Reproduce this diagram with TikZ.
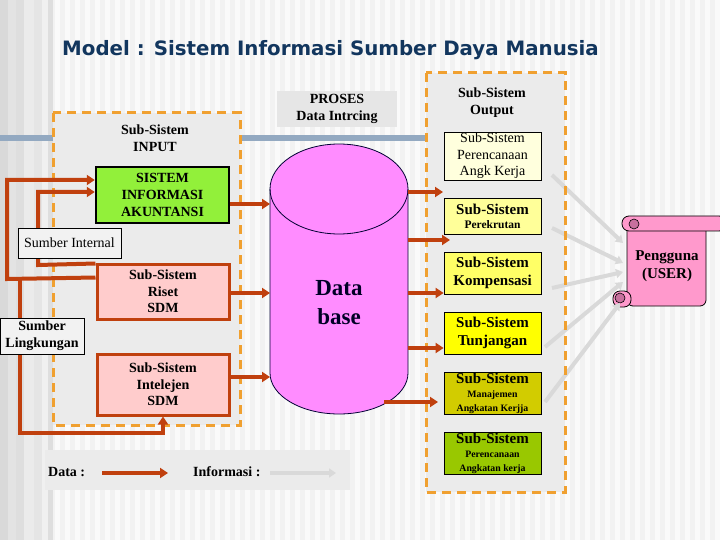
\documentclass[tikz,border=0pt]{standalone}
\usepackage{fontspec}
\setmainfont{Liberation Serif}
\newfontfamily\titlefont{DejaVu Sans}
\usetikzlibrary{arrows.meta}
\definecolor{datared}{HTML}{C0400E}
\definecolor{dashorange}{HTML}{F0A030}
\definecolor{panelgray}{HTML}{EBEBEB}
\definecolor{infogray}{HTML}{D9D9D9}
\definecolor{bluegray}{HTML}{93A9C1}
\definecolor{titleblue}{HTML}{12365E}
\definecolor{siagreen}{HTML}{92F03A}
\definecolor{risetpink}{HTML}{FFCCCC}
\definecolor{dbpink}{HTML}{FF8CFF}
\definecolor{yelA}{HTML}{FFFFDD}
\definecolor{yelB}{HTML}{FFFF99}
\definecolor{yelC}{HTML}{FFFF66}
\definecolor{yelD}{HTML}{FFFF00}
\definecolor{yelE}{HTML}{D2CC00}
\definecolor{yelF}{HTML}{99C800}
\definecolor{userpink}{HTML}{FF99CC}
\definecolor{curlpink}{HTML}{C8709E}
\definecolor{bgbase}{HTML}{F2F2F2}
\definecolor{bgstripe}{HTML}{FAFAFA}
\definecolor{labelgray}{HTML}{E6E6E6}
\newcommand{\fsz}[2]{\fontsize{#1}{#2}\selectfont}
\tikzset{
  dashpanel/.style={draw=dashorange, line width=3pt, dash pattern=on 9pt off 6pt},
  datalink/.style={draw=datared, line width=4pt, line join=miter, -{Triangle[length=8pt,width=10pt]}},
  infolink/.style={draw=infogray, line width=4pt, -{Triangle[length=7pt,width=9pt]}},
  redbox/.style={draw=datared, line width=3pt, fill=risetpink, minimum width=132pt, inner sep=0pt, align=center, font=\bfseries\fsz{14}{16.7}},
  outbox/.style={draw=black, line width=0.8pt, minimum width=97pt, inner sep=0pt, align=center},
  srcbox/.style={draw=black, line width=0.6pt, fill=bgbase, inner sep=0pt, align=center},
  plainlabel/.style={inner sep=0pt, align=center, font=\bfseries\fsz{14}{16.7}}
}
\begin{document}
\begin{tikzpicture}[x=1pt,y=-1pt]
\useasboundingbox (0,0) rectangle (720,540);
% background
\fill[bgbase] (0,0) rectangle (720,540);
\foreach \xx in {55,65,...,715} { \fill[bgstripe] (\xx,0) rectangle (\xx+5,540); }
\fill[black!15] (0,0) rectangle (8,540);
\fill[black!11] (8,0) rectangle (16,540);
\fill[black!13] (16,0) rectangle (24,540);
\fill[black!8] (24,0) rectangle (34,540);
\fill[black!10] (34,0) rectangle (42,540);
\fill[black!6] (42,0) rectangle (48,540);
\fill[black!13] (48,0) rectangle (53,540);
% title
\node[anchor=west, inner sep=0pt, text=titleblue, font=\titlefont\bfseries\fsz{19.8}{23}] (title) at (62,50) {Model : Sistem Informasi Sumber Daya Manusia};
% blue line
\draw[bluegray, line width=6pt] (0,138) -- (426,138);
% input panel
\fill[panelgray] (53,113) rectangle (240,425);
\draw[dashpanel] (53,113) rectangle (240,425);
% output panel fill
\fill[panelgray] (426,73) rectangle (565,492);
% PROSES label
\node[plainlabel, fill=labelgray, minimum width=120pt, minimum height=36pt] (proses) at (337,109) {PROSES\\Data Intrcing};
\node[plainlabel] (inlabel) at (155,138.5) {Sub-Sistem\\INPUT};
\node[plainlabel] (outlabel) at (492,102.5) {Sub-Sistem\\Output};
% database cylinder
\draw[fill=dbpink, line width=0.8pt, draw=black!80!blue] (270,189) -- (270,373) arc[start angle=180, end angle=0, x radius=69, y radius=41] -- (408,189) arc[start angle=0, end angle=-180, x radius=69, y radius=45] -- cycle;
\draw[line width=0.8pt, draw=black!80!blue] (270,189) arc[start angle=180, end angle=0, x radius=69, y radius=45];
\node[inner sep=0pt, align=center, font=\bfseries\fsz{23}{28.5}, text=black!85!blue] (db) at (339,302.5) {Data\\base};
% user scroll
\draw[fill=userpink, line width=0.8pt, rounded corners=6pt] (627,222) rectangle (706,306);
\draw[fill=userpink, line width=0.8pt, rounded corners=7pt] (622,216) rectangle (726,231);
\draw[fill=curlpink, line width=0.6pt] (634,224) circle (5);
\draw[fill=userpink, line width=0.8pt, rounded corners=7pt] (613,291) rectangle (631,307);
\draw[fill=curlpink, line width=0.6pt] (620,298) circle (5);
\node[inner sep=0pt, align=center, font=\bfseries\fsz{15}{18}] (user) at (667,266) {Pengguna\\(USER)};
% output boxes
\node[outbox, fill=yelA, minimum height=48pt, font=\fsz{14}{16.4}] (o1) at (492.5,156) {Sub-Sistem\\Perencanaan\\Angk Kerja};
\node[outbox, fill=yelB, minimum height=36pt, font=\bfseries\fsz{15}{14}] (o2) at (492.5,216) {Sub-Sistem\\{\fsz{11.5}{13}Perekrutan}};
\node[outbox, fill=yelC, minimum height=42pt, font=\bfseries\fsz{15}{18}] (o3) at (492.5,273) {Sub-Sistem\\Kompensasi};
\node[outbox, fill=yelD, minimum height=42pt, font=\bfseries\fsz{15}{17.5}] (o4) at (492.5,333) {Sub-Sistem\\Tunjangan};
\node[outbox, fill=yelE, minimum height=42pt, font=\bfseries\fsz{15}{14}] (o5) at (492.5,393) {Sub-Sistem\\{\fsz{9.8}{11.5}Manajemen}\\{\fsz{9.8}{11.5}Angkatan Kerjja}};
\node[outbox, fill=yelF, minimum height=42pt, font=\bfseries\fsz{15}{14}] (o6) at (492.5,453) {Sub-Sistem\\{\fsz{9.8}{12.5}Perencanaan}\\{\fsz{9.8}{12.5}Angkatan kerja}};
% information arrows
\coordinate (g1s) at (552,175); \coordinate (g2s) at (552,228); \coordinate (g3s) at (552,288);
\coordinate (g4s) at (545,347); \coordinate (g5s) at (545,402);
\coordinate (u1) at (623,243); \coordinate (u2) at (623,263); \coordinate (u3) at (623,272);
\coordinate (u4) at (623,282); \coordinate (u5) at (620,303);
\draw[infolink] (g1s) -- (u1);
\draw[infolink] (g2s) -- (u2);
\draw[infolink] (g3s) -- (u3);
\draw[infolink] (g4s) -- (u4);
\draw[infolink] (g5s) -- (u5);
% output dashed border
\draw[dashpanel] (426,73) rectangle (565,492);
% input side boxes
\node[draw=black, line width=2.5pt, fill=siagreen, minimum width=133pt, minimum height=56pt, inner sep=0pt, align=center, font=\bfseries\fsz{14}{16.7}] (sia) at (162.5,195) {SISTEM\\INFORMASI\\AKUNTANSI};
\node[redbox, minimum height=55pt] (riset) at (163,291.5) {Sub-Sistem\\Riset\\SDM};
\node[redbox, minimum height=61pt] (intel) at (163,384.5) {Sub-Sistem\\Intelejen\\SDM};
% data lines on the left
\coordinate (junc) at (20,279);
\draw[datalink] ([yshift=-15pt]riset.north west) -- (7,279) -- (7,180) -- ([yshift=15pt]sia.west);
\draw[datalink] ([yshift=-1pt]riset.north west) -- (38,265) -- (38,192) -- ([yshift=3pt]sia.west);
\draw[datalink] (junc) -- (20,433) -| (intel.south);
\node[srcbox, minimum width=103pt, minimum height=30pt, font=\fsz{14}{16.7}] (sint) at (69.5,243) {Sumber Internal};
\node[srcbox, minimum width=84pt, minimum height=36pt, font=\bfseries\fsz{14}{16.7}] (sling) at (42,336) {Sumber\\Lingkungan};
% data arrows into database
\coordinate (d1) at (270,204); \coordinate (d2) at (270,293); \coordinate (d3) at (270,377);
\draw[datalink] ([yshift=-9pt]sia.east) -- (d1);
\draw[datalink] ([yshift=-1.5pt]riset.east) -- (d2);
\draw[datalink] ([yshift=7.5pt]intel.east) -- (d3);
% data arrows out of database
\coordinate (e1) at (408,192); \coordinate (e2) at (408,240); \coordinate (e3) at (408,293);
\coordinate (e4) at (408,348); \coordinate (e5) at (384,402);
\draw[datalink] (e1) -- (443,192);
\draw[datalink] (e2) -- (450,240);
\draw[datalink] (e3) -- (o3.west |- e3);
\draw[datalink] (e4) -- (o4.west |- e4);
\draw[datalink] (e5) -- (438,402);
% legend
\fill[panelgray] (45,450) rectangle (350,490);
\node[anchor=west, plainlabel] (legdata) at (48,472) {Data :};
\node[anchor=west, plainlabel] (leginfo) at (193,472) {Informasi :};
\coordinate (ld1) at (102,473); \coordinate (ld2) at (168,473);
\coordinate (li1) at (270,473); \coordinate (li2) at (336,473);
\draw[datalink] (ld1) -- (ld2);
\draw[infolink] (li1) -- (li2);
\end{tikzpicture}
\end{document}
